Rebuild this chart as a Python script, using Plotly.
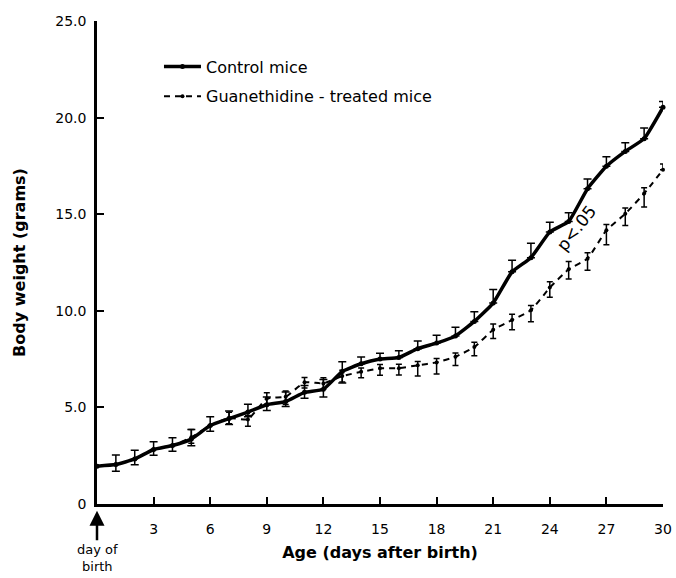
import plotly.graph_objects as go

days = list(range(0, 31))

control_mean = [1.96, 2.04, 2.33, 2.82, 3.03, 3.36, 4.06, 4.42, 4.76, 5.14, 5.30, 5.78, 5.94, 6.86,
                7.26, 7.50, 7.58, 8.04, 8.33, 8.70, 9.45, 10.40, 12.02, 12.75, 14.08, 14.62, 16.32,
                17.48, 18.25, 18.91, 20.53]
control_err_plus = [0.0, 0.5, 0.45, 0.4, 0.4, 0.5, 0.45, 0.4, 0.4, 0.4, 0.5, 0.35, 0.5, 0.5,
                    0.35, 0.3, 0.35, 0.4, 0.4, 0.45, 0.5, 0.7, 0.6, 0.75, 0.5, 0.45, 0.5,
                    0.5, 0.45, 0.55, 0.3]
control_err_minus = [0.0, 0.35, 0.3, 0.3, 0.3, 0.35, 0.3, 0.3, 0.25, 0.3, 0.25, 0.3, 0.4, 0.6,
                     0, 0, 0, 0, 0, 0, 0, 0, 0, 0, 0, 0, 0, 0, 0, 0, 0]

treated_mean = [1.96, 2.04, 2.33, 2.82, 3.03, 3.45, 4.06, 4.45, 4.38, 5.46, 5.55, 6.30, 6.24, 6.62,
                6.84, 7.02, 7.03, 7.18, 7.33, 7.62, 8.12, 9.02, 9.52, 10.03, 11.20, 12.15, 12.70,
                14.17, 15.02, 16.07, 17.30]
treated_err_plus = [0.0, 0.0, 0.0, 0.0, 0.0, 0.4, 0.0, 0.3, 0.2, 0.3, 0.3, 0.25, 0.3, 0.3,
                    0.2, 0.2, 0.2, 0.2, 0.2, 0.2, 0.25, 0.3, 0.3, 0.25, 0.3, 0.4, 0.3,
                    0.3, 0.3, 0.3, 0.3]
treated_err_minus = [0.0, 0.0, 0.0, 0.0, 0.0, 0.3, 0.0, 0.3, 0.35, 0.3, 0.4, 0.3, 0.3, 0.3,
                     0.3, 0.35, 0.35, 0.55, 0.6, 0.45, 0.45, 0.45, 0.5, 0.6, 0.5, 0.5, 0.6,
                     0.75, 0.6, 0.7, 0.0]

x_tick_vals = [3, 6, 9, 12, 15, 18, 21, 24, 27, 30]
y_tick_vals = [0, 5, 10, 15, 20, 25]
y_tick_text = ["0", "5.0", "10.0", "15.0", "20.0", "25.0"]

FONT = "DejaVu Sans"

fig = go.Figure()

fig.add_trace(go.Scatter(
    x=days, y=treated_mean, mode="lines+markers", name="Guanethidine - treated mice",
    legendgroup="treated", legendrank=2,
    line=dict(color="black", width=2, dash="6px,5px", shape="spline", smoothing=0.4),
    marker=dict(size=4, color="black"),
    error_y=dict(type="data", array=treated_err_plus, arrayminus=treated_err_minus,
                 color="black", thickness=1.5, width=3),
    cliponaxis=False,
))

fig.add_trace(go.Scatter(
    x=days, y=control_mean, mode="lines+markers", name="Control mice",
    legendgroup="control", legendrank=1,
    line=dict(color="black", width=3.5, shape="spline", smoothing=0.4),
    marker=dict(size=5, color="black"),
    error_y=dict(type="data", array=control_err_plus, arrayminus=control_err_minus,
                 color="black", thickness=1.5, width=4),
    cliponaxis=False,
))

fig.update_layout(
    width=676, height=578,
    margin=dict(l=97, r=13, t=21, b=74, autoexpand=False),
    paper_bgcolor="white", plot_bgcolor="white",
    font=dict(family=FONT, color="black", size=14),
    showlegend=True,
    legend=dict(x=0.1095, y=0.941, xanchor="left", yanchor="top",
                traceorder="grouped", font=dict(size=16, family=FONT),
                bgcolor="rgba(0,0,0,0)", itemwidth=37, tracegroupgap=6),
    xaxis=dict(range=[0, 30], tickvals=x_tick_vals, ticks="inside", ticklen=7, tickwidth=2,
               tickcolor="black", showline=True, linecolor="black", linewidth=2.5,
               showgrid=False, zeroline=False, tickfont=dict(size=14, family=FONT),
               automargin=False, ticklabelstandoff=10,
               title=dict(text="Age (days after birth)", font=dict(size=16, family=FONT, weight="bold"),
                          standoff=12)),
    yaxis=dict(range=[0, 25], tickvals=y_tick_vals, ticktext=y_tick_text, ticks="inside",
               ticklen=7, tickwidth=2, tickcolor="black", showline=True, linecolor="black",
               linewidth=2.5, showgrid=False, zeroline=False, tickfont=dict(size=14, family=FONT),
               automargin=False, ticklabelstandoff=5,
               title=dict(text="Body weight (grams)", font=dict(size=16, family=FONT, weight="bold"),
                          standoff=26)),
)

fig.add_annotation(x=25.4, y=14.3, xref="x", yref="y", text="p<.05", showarrow=False,
                   textangle=-52, font=dict(size=17, family=FONT))

fig.add_annotation(x=0, y=-0.014, xref="x", yref="paper", text="day of<br>birth",
                   showarrow=True, arrowhead=2, arrowsize=1.2, arrowwidth=2.5, arrowcolor="black",
                   ax=0, ay=47, font=dict(size=13, family=FONT), align="center")

# remove the browser's default page margin so the 676x578 figure fills the window exactly
fig.write_html("out.html",
               config={"displayModeBar": False},
               post_script="document.body.style.margin='0';document.body.style.overflow='hidden';")
